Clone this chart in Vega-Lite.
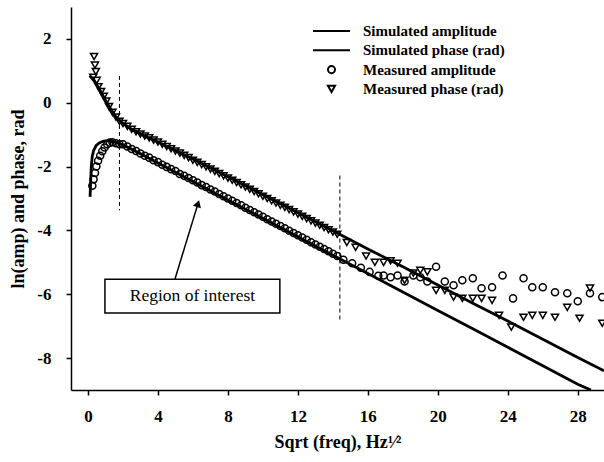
{
  "$schema": "https://vega.github.io/schema/vega-lite/v6.json",
  "width": 533,
  "height": 383,
  "autosize": {"type": "none"},
  "padding": {"left": 71, "top": 7, "right": 0, "bottom": 72},
  "background": "white",
  "config": {
    "view": {"stroke": null},
    "axis": {
      "grid": false,
      "domainColor": "black",
      "domainWidth": 1.5,
      "tickColor": "black",
      "tickWidth": 1.5,
      "tickSize": 5,
      "labelFont": "Liberation Serif",
      "labelFontWeight": "bold",
      "labelFontSize": 17,
      "labelColor": "black",
      "titleFont": "Liberation Serif",
      "titleFontWeight": "bold",
      "titleFontSize": 18,
      "titleColor": "black"
    },
    "legend": {
      "labelFont": "Liberation Serif",
      "labelFontWeight": "bold",
      "labelFontSize": 15,
      "labelColor": "black",
      "symbolStrokeColor": "black",
      "symbolStrokeWidth": 2,
      "symbolFillColor": "transparent"
    }
  },
  "datasets": {
    "sim": [
      {"x": 0.12, "y": -2.95, "series": "Simulated amplitude"},
      {"x": 0.15, "y": -2.5, "series": "Simulated amplitude"},
      {"x": 0.19, "y": -2.0, "series": "Simulated amplitude"},
      {"x": 0.24, "y": -1.7, "series": "Simulated amplitude"},
      {"x": 0.32, "y": -1.5, "series": "Simulated amplitude"},
      {"x": 0.47, "y": -1.34, "series": "Simulated amplitude"},
      {"x": 0.67, "y": -1.25, "series": "Simulated amplitude"},
      {"x": 0.9, "y": -1.2, "series": "Simulated amplitude"},
      {"x": 1.15, "y": -1.19, "series": "Simulated amplitude"},
      {"x": 1.5, "y": -1.23, "series": "Simulated amplitude"},
      {"x": 2, "y": -1.32, "series": "Simulated amplitude"},
      {"x": 3, "y": -1.6, "series": "Simulated amplitude"},
      {"x": 4, "y": -1.89, "series": "Simulated amplitude"},
      {"x": 6, "y": -2.47, "series": "Simulated amplitude"},
      {"x": 8, "y": -3.05, "series": "Simulated amplitude"},
      {"x": 10, "y": -3.62, "series": "Simulated amplitude"},
      {"x": 12, "y": -4.2, "series": "Simulated amplitude"},
      {"x": 14, "y": -4.78, "series": "Simulated amplitude"},
      {"x": 16, "y": -5.35, "series": "Simulated amplitude"},
      {"x": 18, "y": -5.93, "series": "Simulated amplitude"},
      {"x": 20, "y": -6.51, "series": "Simulated amplitude"},
      {"x": 22, "y": -7.08, "series": "Simulated amplitude"},
      {"x": 24, "y": -7.66, "series": "Simulated amplitude"},
      {"x": 26, "y": -8.24, "series": "Simulated amplitude"},
      {"x": 28, "y": -8.82, "series": "Simulated amplitude"},
      {"x": 28.75, "y": -9.0, "series": "Simulated amplitude"},
      {"x": 0.1, "y": 0.85, "series": "Simulated phase (rad)"},
      {"x": 0.3, "y": 0.72, "series": "Simulated phase (rad)"},
      {"x": 0.5, "y": 0.56, "series": "Simulated phase (rad)"},
      {"x": 0.7, "y": 0.38, "series": "Simulated phase (rad)"},
      {"x": 1.0, "y": 0.08, "series": "Simulated phase (rad)"},
      {"x": 1.3, "y": -0.2, "series": "Simulated phase (rad)"},
      {"x": 1.6, "y": -0.45, "series": "Simulated phase (rad)"},
      {"x": 2.0, "y": -0.65, "series": "Simulated phase (rad)"},
      {"x": 2.5, "y": -0.83, "series": "Simulated phase (rad)"},
      {"x": 3, "y": -0.98, "series": "Simulated phase (rad)"},
      {"x": 4, "y": -1.23, "series": "Simulated phase (rad)"},
      {"x": 6, "y": -1.76, "series": "Simulated phase (rad)"},
      {"x": 8, "y": -2.32, "series": "Simulated phase (rad)"},
      {"x": 10, "y": -2.88, "series": "Simulated phase (rad)"},
      {"x": 12, "y": -3.45, "series": "Simulated phase (rad)"},
      {"x": 14, "y": -4.01, "series": "Simulated phase (rad)"},
      {"x": 16, "y": -4.58, "series": "Simulated phase (rad)"},
      {"x": 18, "y": -5.14, "series": "Simulated phase (rad)"},
      {"x": 20, "y": -5.71, "series": "Simulated phase (rad)"},
      {"x": 22, "y": -6.28, "series": "Simulated phase (rad)"},
      {"x": 24, "y": -6.84, "series": "Simulated phase (rad)"},
      {"x": 26, "y": -7.41, "series": "Simulated phase (rad)"},
      {"x": 28, "y": -7.98, "series": "Simulated phase (rad)"},
      {"x": 29.5, "y": -8.4, "series": "Simulated phase (rad)"}
    ],
    "meas": [
      {"x": 0.25, "y": -2.6, "series": "Measured amplitude"},
      {"x": 0.32, "y": -2.4, "series": "Measured amplitude"},
      {"x": 0.4, "y": -2.2, "series": "Measured amplitude"},
      {"x": 0.48, "y": -2.0, "series": "Measured amplitude"},
      {"x": 0.58, "y": -1.82, "series": "Measured amplitude"},
      {"x": 0.7, "y": -1.66, "series": "Measured amplitude"},
      {"x": 0.82, "y": -1.52, "series": "Measured amplitude"},
      {"x": 0.95, "y": -1.4, "series": "Measured amplitude"},
      {"x": 1.1, "y": -1.3, "series": "Measured amplitude"},
      {"x": 1.25, "y": -1.25, "series": "Measured amplitude"},
      {"x": 1.4, "y": -1.24, "series": "Measured amplitude"},
      {"x": 1.6, "y": -1.27, "series": "Measured amplitude"},
      {"x": 1.8, "y": -1.3, "series": "Measured amplitude"},
      {"x": 2.0, "y": -1.3, "series": "Measured amplitude"},
      {"x": 2.25, "y": -1.37, "series": "Measured amplitude"},
      {"x": 2.5, "y": -1.45, "series": "Measured amplitude"},
      {"x": 2.75, "y": -1.51, "series": "Measured amplitude"},
      {"x": 3.0, "y": -1.59, "series": "Measured amplitude"},
      {"x": 3.25, "y": -1.66, "series": "Measured amplitude"},
      {"x": 3.5, "y": -1.72, "series": "Measured amplitude"},
      {"x": 3.75, "y": -1.8, "series": "Measured amplitude"},
      {"x": 4.0, "y": -1.86, "series": "Measured amplitude"},
      {"x": 4.25, "y": -1.94, "series": "Measured amplitude"},
      {"x": 4.5, "y": -2.01, "series": "Measured amplitude"},
      {"x": 4.75, "y": -2.08, "series": "Measured amplitude"},
      {"x": 5.0, "y": -2.14, "series": "Measured amplitude"},
      {"x": 5.25, "y": -2.23, "series": "Measured amplitude"},
      {"x": 5.5, "y": -2.29, "series": "Measured amplitude"},
      {"x": 5.75, "y": -2.36, "series": "Measured amplitude"},
      {"x": 6.0, "y": -2.43, "series": "Measured amplitude"},
      {"x": 6.25, "y": -2.5, "series": "Measured amplitude"},
      {"x": 6.5, "y": -2.58, "series": "Measured amplitude"},
      {"x": 6.75, "y": -2.64, "series": "Measured amplitude"},
      {"x": 7.0, "y": -2.72, "series": "Measured amplitude"},
      {"x": 7.25, "y": -2.78, "series": "Measured amplitude"},
      {"x": 7.5, "y": -2.86, "series": "Measured amplitude"},
      {"x": 7.75, "y": -2.93, "series": "Measured amplitude"},
      {"x": 8.0, "y": -3.0, "series": "Measured amplitude"},
      {"x": 8.25, "y": -3.07, "series": "Measured amplitude"},
      {"x": 8.5, "y": -3.14, "series": "Measured amplitude"},
      {"x": 8.75, "y": -3.21, "series": "Measured amplitude"},
      {"x": 9.0, "y": -3.29, "series": "Measured amplitude"},
      {"x": 9.25, "y": -3.36, "series": "Measured amplitude"},
      {"x": 9.5, "y": -3.43, "series": "Measured amplitude"},
      {"x": 9.75, "y": -3.5, "series": "Measured amplitude"},
      {"x": 10.0, "y": -3.57, "series": "Measured amplitude"},
      {"x": 10.25, "y": -3.65, "series": "Measured amplitude"},
      {"x": 10.5, "y": -3.72, "series": "Measured amplitude"},
      {"x": 10.75, "y": -3.79, "series": "Measured amplitude"},
      {"x": 11.0, "y": -3.86, "series": "Measured amplitude"},
      {"x": 11.25, "y": -3.93, "series": "Measured amplitude"},
      {"x": 11.5, "y": -4.01, "series": "Measured amplitude"},
      {"x": 11.75, "y": -4.08, "series": "Measured amplitude"},
      {"x": 12.0, "y": -4.15, "series": "Measured amplitude"},
      {"x": 12.25, "y": -4.22, "series": "Measured amplitude"},
      {"x": 12.5, "y": -4.29, "series": "Measured amplitude"},
      {"x": 12.75, "y": -4.37, "series": "Measured amplitude"},
      {"x": 13.0, "y": -4.44, "series": "Measured amplitude"},
      {"x": 13.25, "y": -4.51, "series": "Measured amplitude"},
      {"x": 13.5, "y": -4.58, "series": "Measured amplitude"},
      {"x": 13.75, "y": -4.65, "series": "Measured amplitude"},
      {"x": 14.0, "y": -4.73, "series": "Measured amplitude"},
      {"x": 14.25, "y": -4.8, "series": "Measured amplitude"},
      {"x": 14.6, "y": -4.92, "series": "Measured amplitude"},
      {"x": 15.1, "y": -5.03, "series": "Measured amplitude"},
      {"x": 15.6, "y": -5.17, "series": "Measured amplitude"},
      {"x": 16.1, "y": -5.3, "series": "Measured amplitude"},
      {"x": 16.6, "y": -5.42, "series": "Measured amplitude"},
      {"x": 16.9, "y": -5.41, "series": "Measured amplitude"},
      {"x": 17.3, "y": -5.47, "series": "Measured amplitude"},
      {"x": 17.7, "y": -5.41, "series": "Measured amplitude"},
      {"x": 18.1, "y": -5.6, "series": "Measured amplitude"},
      {"x": 18.6, "y": -5.41, "series": "Measured amplitude"},
      {"x": 19.0, "y": -5.47, "series": "Measured amplitude"},
      {"x": 19.4, "y": -5.6, "series": "Measured amplitude"},
      {"x": 19.9, "y": -5.14, "series": "Measured amplitude"},
      {"x": 20.4, "y": -5.6, "series": "Measured amplitude"},
      {"x": 20.9, "y": -5.72, "series": "Measured amplitude"},
      {"x": 21.4, "y": -5.56, "series": "Measured amplitude"},
      {"x": 22.0, "y": -5.5, "series": "Measured amplitude"},
      {"x": 22.5, "y": -5.81, "series": "Measured amplitude"},
      {"x": 23.1, "y": -5.78, "series": "Measured amplitude"},
      {"x": 23.7, "y": -5.41, "series": "Measured amplitude"},
      {"x": 24.3, "y": -6.13, "series": "Measured amplitude"},
      {"x": 24.9, "y": -5.5, "series": "Measured amplitude"},
      {"x": 25.4, "y": -5.78, "series": "Measured amplitude"},
      {"x": 26.0, "y": -5.78, "series": "Measured amplitude"},
      {"x": 26.7, "y": -5.94, "series": "Measured amplitude"},
      {"x": 27.4, "y": -5.97, "series": "Measured amplitude"},
      {"x": 28.0, "y": -6.22, "series": "Measured amplitude"},
      {"x": 28.7, "y": -5.97, "series": "Measured amplitude"},
      {"x": 29.4, "y": -6.09, "series": "Measured amplitude"},
      {"x": 0.35, "y": 1.45, "series": "Measured phase (rad)"},
      {"x": 0.4, "y": 1.18, "series": "Measured phase (rad)"},
      {"x": 0.45, "y": 0.98, "series": "Measured phase (rad)"},
      {"x": 0.3, "y": 0.8, "series": "Measured phase (rad)"},
      {"x": 0.5, "y": 0.7, "series": "Measured phase (rad)"},
      {"x": 0.6, "y": 0.5, "series": "Measured phase (rad)"},
      {"x": 0.75, "y": 0.35, "series": "Measured phase (rad)"},
      {"x": 0.9, "y": 0.2, "series": "Measured phase (rad)"},
      {"x": 1.05, "y": 0.05, "series": "Measured phase (rad)"},
      {"x": 1.2, "y": -0.12, "series": "Measured phase (rad)"},
      {"x": 1.4, "y": -0.3, "series": "Measured phase (rad)"},
      {"x": 1.6, "y": -0.45, "series": "Measured phase (rad)"},
      {"x": 1.8, "y": -0.58, "series": "Measured phase (rad)"},
      {"x": 2.0, "y": -0.65, "series": "Measured phase (rad)"},
      {"x": 2.25, "y": -0.74, "series": "Measured phase (rad)"},
      {"x": 2.5, "y": -0.83, "series": "Measured phase (rad)"},
      {"x": 2.75, "y": -0.91, "series": "Measured phase (rad)"},
      {"x": 3.0, "y": -0.98, "series": "Measured phase (rad)"},
      {"x": 3.25, "y": -1.04, "series": "Measured phase (rad)"},
      {"x": 3.5, "y": -1.1, "series": "Measured phase (rad)"},
      {"x": 3.75, "y": -1.17, "series": "Measured phase (rad)"},
      {"x": 4.0, "y": -1.23, "series": "Measured phase (rad)"},
      {"x": 4.25, "y": -1.3, "series": "Measured phase (rad)"},
      {"x": 4.5, "y": -1.37, "series": "Measured phase (rad)"},
      {"x": 4.75, "y": -1.44, "series": "Measured phase (rad)"},
      {"x": 5.0, "y": -1.51, "series": "Measured phase (rad)"},
      {"x": 5.25, "y": -1.58, "series": "Measured phase (rad)"},
      {"x": 5.5, "y": -1.65, "series": "Measured phase (rad)"},
      {"x": 5.75, "y": -1.72, "series": "Measured phase (rad)"},
      {"x": 6.0, "y": -1.8, "series": "Measured phase (rad)"},
      {"x": 6.25, "y": -1.87, "series": "Measured phase (rad)"},
      {"x": 6.5, "y": -1.94, "series": "Measured phase (rad)"},
      {"x": 6.75, "y": -2.01, "series": "Measured phase (rad)"},
      {"x": 7.0, "y": -2.08, "series": "Measured phase (rad)"},
      {"x": 7.25, "y": -2.15, "series": "Measured phase (rad)"},
      {"x": 7.5, "y": -2.22, "series": "Measured phase (rad)"},
      {"x": 7.75, "y": -2.29, "series": "Measured phase (rad)"},
      {"x": 8.0, "y": -2.36, "series": "Measured phase (rad)"},
      {"x": 8.25, "y": -2.43, "series": "Measured phase (rad)"},
      {"x": 8.5, "y": -2.5, "series": "Measured phase (rad)"},
      {"x": 8.75, "y": -2.57, "series": "Measured phase (rad)"},
      {"x": 9.0, "y": -2.64, "series": "Measured phase (rad)"},
      {"x": 9.25, "y": -2.71, "series": "Measured phase (rad)"},
      {"x": 9.5, "y": -2.78, "series": "Measured phase (rad)"},
      {"x": 9.75, "y": -2.85, "series": "Measured phase (rad)"},
      {"x": 10.0, "y": -2.93, "series": "Measured phase (rad)"},
      {"x": 10.25, "y": -3.0, "series": "Measured phase (rad)"},
      {"x": 10.5, "y": -3.07, "series": "Measured phase (rad)"},
      {"x": 10.75, "y": -3.14, "series": "Measured phase (rad)"},
      {"x": 11.0, "y": -3.21, "series": "Measured phase (rad)"},
      {"x": 11.25, "y": -3.28, "series": "Measured phase (rad)"},
      {"x": 11.5, "y": -3.35, "series": "Measured phase (rad)"},
      {"x": 11.75, "y": -3.42, "series": "Measured phase (rad)"},
      {"x": 12.0, "y": -3.49, "series": "Measured phase (rad)"},
      {"x": 12.25, "y": -3.56, "series": "Measured phase (rad)"},
      {"x": 12.5, "y": -3.63, "series": "Measured phase (rad)"},
      {"x": 12.75, "y": -3.7, "series": "Measured phase (rad)"},
      {"x": 13.0, "y": -3.77, "series": "Measured phase (rad)"},
      {"x": 13.25, "y": -3.84, "series": "Measured phase (rad)"},
      {"x": 13.5, "y": -3.91, "series": "Measured phase (rad)"},
      {"x": 13.75, "y": -3.98, "series": "Measured phase (rad)"},
      {"x": 14.0, "y": -4.05, "series": "Measured phase (rad)"},
      {"x": 14.25, "y": -4.12, "series": "Measured phase (rad)"},
      {"x": 14.8, "y": -4.38, "series": "Measured phase (rad)"},
      {"x": 15.3, "y": -4.53, "series": "Measured phase (rad)"},
      {"x": 15.9, "y": -4.8, "series": "Measured phase (rad)"},
      {"x": 16.4, "y": -5.0, "series": "Measured phase (rad)"},
      {"x": 16.9, "y": -5.0, "series": "Measured phase (rad)"},
      {"x": 17.3, "y": -4.95, "series": "Measured phase (rad)"},
      {"x": 17.7, "y": -5.03, "series": "Measured phase (rad)"},
      {"x": 18.1, "y": -5.56, "series": "Measured phase (rad)"},
      {"x": 18.6, "y": -5.34, "series": "Measured phase (rad)"},
      {"x": 19.0, "y": -5.25, "series": "Measured phase (rad)"},
      {"x": 19.4, "y": -5.3, "series": "Measured phase (rad)"},
      {"x": 19.9, "y": -5.88, "series": "Measured phase (rad)"},
      {"x": 20.4, "y": -5.88, "series": "Measured phase (rad)"},
      {"x": 20.9, "y": -6.09, "series": "Measured phase (rad)"},
      {"x": 21.4, "y": -6.13, "series": "Measured phase (rad)"},
      {"x": 22.0, "y": -6.13, "series": "Measured phase (rad)"},
      {"x": 22.5, "y": -6.13, "series": "Measured phase (rad)"},
      {"x": 23.1, "y": -6.19, "series": "Measured phase (rad)"},
      {"x": 23.5, "y": -6.66, "series": "Measured phase (rad)"},
      {"x": 24.2, "y": -7.03, "series": "Measured phase (rad)"},
      {"x": 24.9, "y": -6.72, "series": "Measured phase (rad)"},
      {"x": 25.4, "y": -6.66, "series": "Measured phase (rad)"},
      {"x": 26.0, "y": -6.66, "series": "Measured phase (rad)"},
      {"x": 26.7, "y": -6.72, "series": "Measured phase (rad)"},
      {"x": 27.4, "y": -6.41, "series": "Measured phase (rad)"},
      {"x": 28.1, "y": -6.75, "series": "Measured phase (rad)"},
      {"x": 28.7, "y": -5.81, "series": "Measured phase (rad)"},
      {"x": 29.4, "y": -6.91, "series": "Measured phase (rad)"}
    ],
    "dashes": [
      {"x": 1.8, "y1": 0.84, "y2": -3.37},
      {"x": 14.4, "y1": -2.28, "y2": -6.81}
    ],
    "arrow": [
      {"x1": 4.97, "y1": -5.53, "x2": 6.29, "y2": -3.16}
    ],
    "box": [
      {"x1": 0.97, "x2": 10.97, "y1": -5.53, "y2": -6.59, "label": "Region of interest", "xm": 5.97, "ym": -6.06}
    ]
  },
  "layer": [
    {
      "mark": {"type": "rule", "color": "black", "strokeWidth": 1.5},
      "encoding": {"y": {"datum": 3, "type": "quantitative", "scale": {"domain": [-9, 3], "nice": false}}}
    },
    {
      "data": {"name": "dashes"},
      "mark": {"type": "rule", "color": "black", "strokeWidth": 1, "strokeDash": [4, 3]},
      "encoding": {
        "x": {"field": "x", "type": "quantitative"},
        "y": {"field": "y1", "type": "quantitative"},
        "y2": {"field": "y2"}
      }
    },
    {
      "data": {"name": "sim"},
      "mark": {"type": "line", "color": "black", "strokeWidth": 2.8, "clip": true},
      "encoding": {
        "x": {"field": "x", "type": "quantitative"},
        "y": {"field": "y", "type": "quantitative"},
        "detail": {"field": "series"}
      }
    },
    {
      "data": {"name": "meas"},
      "mark": {"type": "point", "filled": false, "color": "black", "strokeWidth": 1.5, "opacity": 1, "clip": true},
      "encoding": {
        "x": {
          "field": "x", "type": "quantitative",
          "scale": {"domain": [-0.97, 29.5], "nice": false, "zero": false},
          "axis": {"values": [0, 4, 8, 12, 16, 20, 24, 28], "title": "Sqrt (freq), Hz\u00b9\u2044\u00b2", "labelPadding": 13, "titlePadding": 9}
        },
        "y": {
          "field": "y", "type": "quantitative",
          "scale": {"domain": [-9, 3], "nice": false, "zero": false},
          "axis": {"values": [-8, -6, -4, -2, 0, 2], "labelExpr": "'' + datum.value", "title": "ln(amp) and phase,  rad", "labelPadding": 15, "titlePadding": 9}
        },
        "shape": {
          "field": "series", "type": "nominal",
          "scale": {"domain": ["Simulated amplitude", "Simulated phase (rad)", "Measured amplitude", "Measured phase (rad)"], "range": ["stroke", "stroke", "circle", "triangle-down"]},
          "legend": {"title": null, "orient": "none", "legendX": 241, "legendY": 16, "labelOffset": 12, "rowPadding": 3.3, "clipHeight": 16}
        },
        "size": {
          "field": "series", "type": "nominal",
          "scale": {"type": "ordinal", "domain": ["Simulated amplitude", "Simulated phase (rad)", "Measured amplitude", "Measured phase (rad)"], "range": [1369, 1369, 50, 50]},
          "legend": {"title": null, "orient": "none", "legendX": 241, "legendY": 16, "labelOffset": 12, "rowPadding": 3.3, "clipHeight": 16}
        }
      }
    },
    {
      "data": {"name": "arrow"},
      "mark": {"type": "rule", "color": "black", "strokeWidth": 1.5},
      "encoding": {
        "x": {"field": "x1", "type": "quantitative"},
        "y": {"field": "y1", "type": "quantitative"},
        "x2": {"field": "x2"},
        "y2": {"field": "y2"}
      }
    },
    {
      "data": {"name": "arrow"},
      "mark": {"type": "point", "shape": "triangle-up", "filled": true, "color": "black", "size": 70, "angle": 17, "opacity": 1},
      "encoding": {
        "x": {"field": "x2", "type": "quantitative"},
        "y": {"field": "y2", "type": "quantitative"}
      }
    },
    {
      "data": {"name": "box"},
      "mark": {"type": "rect", "fill": "white", "stroke": "black", "strokeWidth": 1.5},
      "encoding": {
        "x": {"field": "x1", "type": "quantitative"},
        "x2": {"field": "x2"},
        "y": {"field": "y1", "type": "quantitative"},
        "y2": {"field": "y2"}
      }
    },
    {
      "data": {"name": "box"},
      "mark": {"type": "text", "font": "Liberation Serif", "fontSize": 17.5, "color": "black", "align": "center", "baseline": "middle"},
      "encoding": {
        "x": {"field": "xm", "type": "quantitative"},
        "y": {"field": "ym", "type": "quantitative"},
        "text": {"field": "label"}
      }
    }
  ]
}
